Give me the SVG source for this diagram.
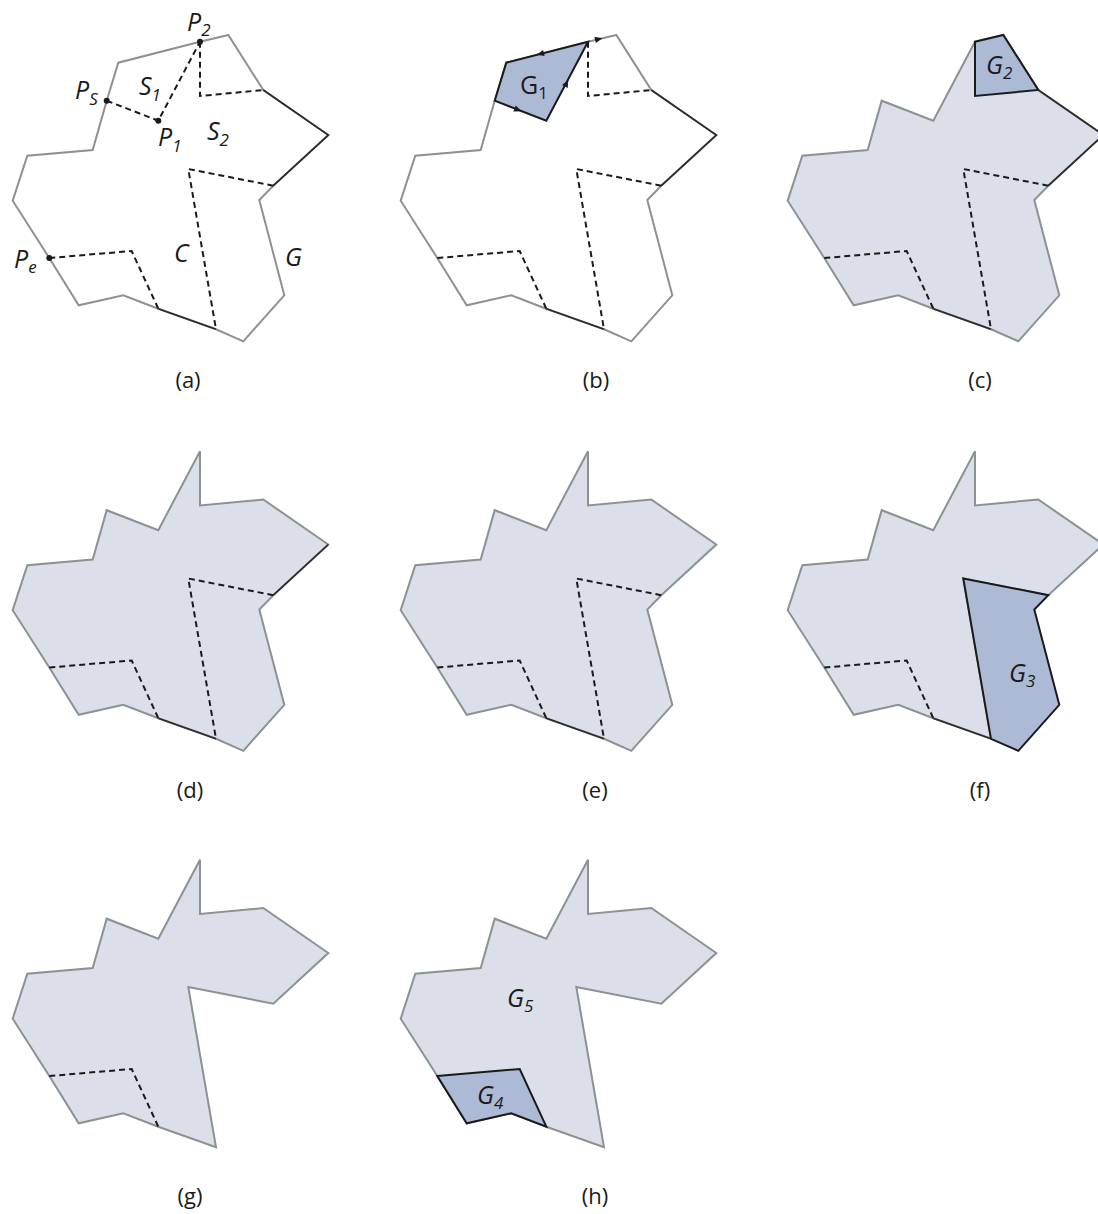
<svg xmlns="http://www.w3.org/2000/svg" width="1098" height="1214" viewBox="0 0 1098 1214">
<style>
.out{fill:none;stroke:#8c9191;stroke-width:2;stroke-linejoin:miter}
.ltf{fill:#dadfe9;stroke:#8c9191;stroke-width:2}
.dk{fill:#adbad6;stroke:#1a1a1a;stroke-width:2;stroke-linejoin:miter}
.cut{fill:none;stroke:#2a2a2a;stroke-width:1.7}
.dash{fill:none;stroke:#1a1a1a;stroke-width:2;stroke-dasharray:6 4}
.lbl{font-family:"Open Sans","Noto Sans",sans-serif;font-style:italic;font-size:25px;fill:#1a1a1a}
.up{font-family:"Open Sans","Noto Sans",sans-serif;font-size:25px;fill:#1a1a1a}
.sub{font-size:17px}
.cap{font-family:"Open Sans","Noto Sans",sans-serif;font-size:22px;fill:#1a1a1a;text-anchor:middle}
.dot{fill:#1a1a1a}
.ah{fill:#1a1a1a}
</style>
<defs>
<path id="arr" d="M-4,-3.2 L3.5,0 L-4,3.2 Z"/>
</defs>

<!-- (a) -->
<g id="panel-a">
<polygon class="out" points="228.3,35 200,41.7 118.3,62.7 106.7,100.7 92.7,150 27.3,155.7 12.7,200.7 49.3,258 78.7,305.3 123.3,295.3 158.3,308.7 216,329.3 243.3,341.3 284.3,295.3 259.3,200 273.3,185.7 328.3,135 263.3,90"/>
<g id="edges-a">
<polyline class="cut" points="263.3,90 328.3,135 273.3,185.7"/>
<polyline class="cut" points="158.3,308.7 216,329.3"/>
<polyline class="dash" points="106.7,100.7 158.3,120.7 200,41.7"/>
<polyline class="dash" points="200,41.7 200,96 263.3,90"/>
<polyline class="dash" points="273.3,185.7 188.3,169 216,329.3"/>
<polyline class="dash" points="49.3,258 131.7,251 158.3,308.7"/>
</g>
<circle class="dot" cx="200" cy="41.7" r="3"/>
<circle class="dot" cx="106.7" cy="100.7" r="3"/>
<circle class="dot" cx="158.3" cy="120.7" r="3"/>
<circle class="dot" cx="49.3" cy="258" r="3"/>
<text class="lbl" x="187" y="31">P<tspan class="sub" dy="5">2</tspan></text>
<text class="lbl" x="75" y="99">P<tspan class="sub" dy="6">S</tspan></text>
<text class="lbl" x="139" y="95">S<tspan class="sub" dy="6">1</tspan></text>
<text class="lbl" x="158" y="146">P<tspan class="sub" dy="6">1</tspan></text>
<text class="lbl" x="207" y="140">S<tspan class="sub" dy="6">2</tspan></text>
<text class="lbl" x="174" y="262">C</text>
<text class="lbl" x="285" y="266">G</text>
<text class="lbl" x="14" y="268">P<tspan class="sub" dy="5">e</tspan></text>
<text class="cap" x="188" y="388">(a)</text>
</g>

<!-- (b) -->
<g id="panel-b" transform="translate(388,0)">
<polygon class="out" points="228.3,35 200,41.7 118.3,62.7 106.7,100.7 92.7,150 27.3,155.7 12.7,200.7 49.3,258 78.7,305.3 123.3,295.3 158.3,308.7 216,329.3 243.3,341.3 284.3,295.3 259.3,200 273.3,185.7 328.3,135 263.3,90"/>
<polygon id="G1" class="dk" points="106.7,100.7 118.3,62.7 200,41.7 158.3,120.7"/>
<g id="edges-b">
<polyline class="cut" points="263.3,90 328.3,135 273.3,185.7"/>
<polyline class="cut" points="158.3,308.7 216,329.3"/>
<polyline class="dash" points="200,41.7 200,96 263.3,90"/>
<polyline class="dash" points="273.3,185.7 188.3,169 216,329.3"/>
<polyline class="dash" points="49.3,258 131.7,251 158.3,308.7"/>
<use href="#arr" class="ah" transform="translate(130.3,110) rotate(21.2)"/>
<use href="#arr" class="ah" transform="translate(178.7,83) rotate(-62.2)"/>
<use href="#arr" class="ah" transform="translate(152,54) rotate(165.6)"/>
<use href="#arr" class="ah" transform="translate(211,39) rotate(-13.3)"/>
</g>
<text class="up" x="132" y="94">G<tspan class="sub" dy="5">1</tspan></text>
<text class="cap" x="208" y="388">(b)</text>
</g>

<!-- (c) -->
<g id="panel-c" transform="translate(775,0)">
<polygon class="ltf" points="228.3,35 200,41.7 158.3,120.7 106.7,100.7 92.7,150 27.3,155.7 12.7,200.7 49.3,258 78.7,305.3 123.3,295.3 158.3,308.7 216,329.3 243.3,341.3 284.3,295.3 259.3,200 273.3,185.7 328.3,135 263.3,90"/>
<polygon id="G2" class="dk" points="200,41.7 228.3,35 263.3,90 200,96"/>
<g id="edges-c">
<polyline class="cut" points="263.3,90 328.3,135 273.3,185.7"/>
<polyline class="cut" points="158.3,308.7 216,329.3"/>
<polyline class="dash" points="273.3,185.7 188.3,169 216,329.3"/>
<polyline class="dash" points="49.3,258 131.7,251 158.3,308.7"/>
</g>
<text class="lbl" x="211" y="74">G<tspan class="sub" dy="5">2</tspan></text>
<text class="cap" x="205" y="388">(c)</text>
</g>

<!-- (d) -->
<g id="panel-d" transform="translate(0,409.5)">
<polygon class="ltf" points="200,41.7 200,96 263.3,90 328.3,135 273.3,185.7 259.3,200 284.3,295.3 243.3,341.3 216,329.3 158.3,308.7 123.3,295.3 78.7,305.3 49.3,258 12.7,200.7 27.3,155.7 92.7,150 106.7,100.7 158.3,120.7"/>
<g id="edges-d">
<polyline class="cut" points="328.3,135 273.3,185.7"/>
<polyline class="cut" points="158.3,308.7 216,329.3"/>
<polyline class="dash" points="273.3,185.7 188.3,169 216,329.3"/>
<polyline class="dash" points="49.3,258 131.7,251 158.3,308.7"/>
</g>
<text class="cap" x="190" y="388">(d)</text>
</g>

<!-- (e) -->
<g id="panel-e" transform="translate(388,409.5)">
<polygon class="ltf" points="200,41.7 200,96 263.3,90 328.3,135 273.3,185.7 259.3,200 284.3,295.3 243.3,341.3 216,329.3 158.3,308.7 123.3,295.3 78.7,305.3 49.3,258 12.7,200.7 27.3,155.7 92.7,150 106.7,100.7 158.3,120.7"/>
<g id="edges-e">
<polyline class="cut" points="158.3,308.7 216,329.3"/>
<polyline class="dash" points="273.3,185.7 188.3,169 216,329.3"/>
<polyline class="dash" points="49.3,258 131.7,251 158.3,308.7"/>
</g>
<text class="cap" x="207" y="388">(e)</text>
</g>

<!-- (f) -->
<g id="panel-f" transform="translate(775,409.5)">
<polygon class="ltf" points="200,41.7 200,96 263.3,90 328.3,135 273.3,185.7 188.3,169 216,329.3 158.3,308.7 123.3,295.3 78.7,305.3 49.3,258 12.7,200.7 27.3,155.7 92.7,150 106.7,100.7 158.3,120.7"/>
<polygon id="G3" class="dk" points="188.3,169 273.3,185.7 259.3,200 284.3,295.3 243.3,341.3 216,329.3"/>
<g id="edges-f">
<polyline class="cut" points="158.3,308.7 216,329.3"/>
<polyline class="dash" points="49.3,258 131.7,251 158.3,308.7"/>
</g>
<text class="lbl" x="234" y="272">G<tspan class="sub" dy="5">3</tspan></text>
<text class="cap" x="205" y="388">(f)</text>
</g>

<!-- (g) -->
<g id="panel-g" transform="translate(0,818)">
<polygon class="ltf" points="200,41.7 200,96 263.3,90 328.3,135 273.3,185.7 188.3,169 216,329.3 158.3,308.7 123.3,295.3 78.7,305.3 49.3,258 12.7,200.7 27.3,155.7 92.7,150 106.7,100.7 158.3,120.7"/>
<g id="edges-g">
<polyline class="dash" points="49.3,258 131.7,251 158.3,308.7"/>
</g>
<text class="cap" x="190" y="386">(g)</text>
</g>

<!-- (h) -->
<g id="panel-h" transform="translate(388,818)">
<polygon class="ltf" points="200,41.7 200,96 263.3,90 328.3,135 273.3,185.7 188.3,169 216,329.3 158.3,308.7 123.3,295.3 78.7,305.3 49.3,258 12.7,200.7 27.3,155.7 92.7,150 106.7,100.7 158.3,120.7"/>
<polygon id="G4" class="dk" points="49.3,258 131.7,251 158.3,308.7 123.3,295.3 78.7,305.3"/>
<g id="edges-h"></g>
<text class="lbl" x="119" y="189">G<tspan class="sub" dy="5">5</tspan></text>
<text class="lbl" x="89" y="286">G<tspan class="sub" dy="5">4</tspan></text>
<text class="cap" x="207" y="386">(h)</text>
</g>
</svg>
